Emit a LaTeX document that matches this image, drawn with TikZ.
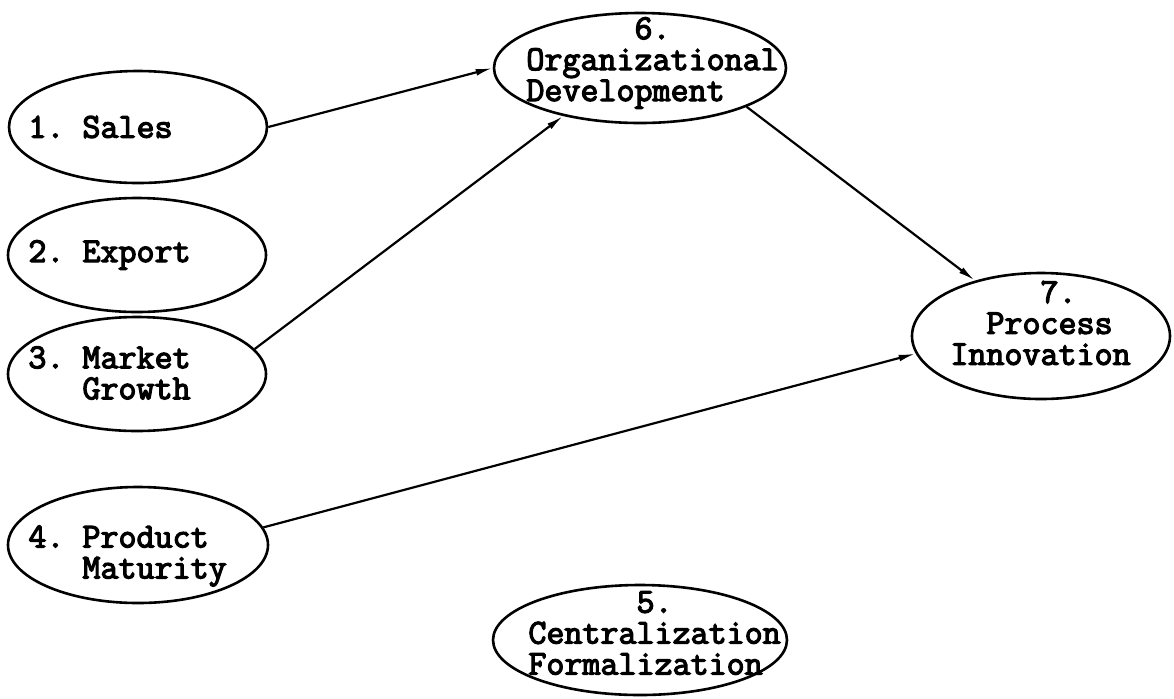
\documentclass[tikz,border=0pt]{standalone}
\usepackage{fontspec}
\setmonofont{Latin Modern Mono}[AutoFakeBold=3.5]
\usetikzlibrary{shapes.geometric,arrows.meta}
\tikzset{
  font=\ttfamily\bfseries\fontsize{17.5}{15.5}\selectfont
}
\begin{document}
\begin{tikzpicture}[x=0.5pt,y=-0.5pt,
  oval/.style={ellipse,draw,line width=1.3pt,inner sep=0pt},
  txt/.style={inner sep=0pt,align=left,anchor=west},
  link/.style={-{Latex[length=8.5pt,width=3.4pt]},line width=1.1pt}]
\useasboundingbox (0,0) rectangle (1174,698);
% left column
\node[oval,minimum width=129pt,minimum height=56pt] (sales) at (138,127) {};
\node[txt] (sales-t) at (28,127) {1.~Sales};
\node[oval,minimum width=129pt,minimum height=57pt] (export) at (137,255) {};
\node[txt] (export-t) at (28,255) {2.~Export};
\node[oval,minimum width=129pt,minimum height=57pt] (growth) at (137,374) {};
\node[txt] (growth-t) at (28,373) {3.~Market\\\hphantom{3.~}Growth};
\node[oval,minimum width=130pt,minimum height=58pt] (product) at (138,545) {};
\node[txt] (product-t) at (28,556) {4.~Product\\\hphantom{4.~}Maturity};
% middle and right
\node[oval,minimum width=146pt,minimum height=55pt] (orgdev) at (640,68) {};
\node[txt] (orgdev-t) at (526,63) {\hphantom{Organi}6.\\Organizational\\Development};
\node[oval,minimum width=129pt,minimum height=63pt] (procinn) at (1041,336) {};
\node[txt] (procinn-t) at (950,323) {\hphantom{Innov}7.\\\hphantom{In}Process\\Innovation};
\node[oval,minimum width=147pt,minimum height=55pt] (central) at (640,640) {};
\node[txt] (central-t) at (528,633) {\hphantom{Centra}5.\\Centralization\\Formalization};
\path[link] (sales.east) edge (orgdev.west)
            (growth.12) edge (orgdev.212)
            (orgdev.-20) edge (procinn.140)
            (product.8) edge (procinn.188);
\end{tikzpicture}
\end{document}
